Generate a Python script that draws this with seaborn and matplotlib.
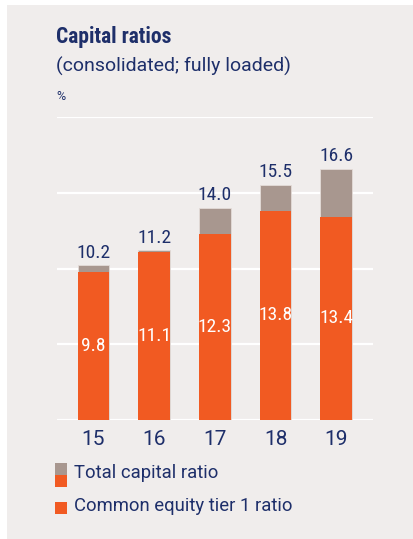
import matplotlib
matplotlib.use("Agg")
import matplotlib.pyplot as plt
import seaborn as sns
import pandas as pd
from matplotlib.patches import Rectangle

# Chart data
years = ["15", "16", "17", "18", "19"]
total_capital = [10.2, 11.2, 14.0, 15.5, 16.6]
cet1 = [9.8, 11.1, 12.3, 13.8, 13.4]

ORANGE = "#F15A22"
GREY = "#A8978F"
NAVY = "#1E2F6A"
PANEL = "#F0EDEC"

sns.set_theme(style="white")
plt.rcParams["font.family"] = ["Roboto", "DejaVu Sans"]
COND = ["Roboto Condensed", "DejaVu Sans"]

df = pd.DataFrame({"year": years, "total": total_capital, "cet1": cet1})

W, H = 414, 539
fig = plt.figure(figsize=(W / 100, H / 100), dpi=100)
fig.patch.set_facecolor("white")
fig.patches.append(Rectangle((7 / W, 0), 406 / W, 534 / H, transform=fig.transFigure,
                             facecolor=PANEL, edgecolor="none", zorder=-5))

ax = fig.add_axes([56.7 / W, (H - 420) / H, 316 / W, 303 / H])
ax.set_facecolor("none")
ax.set_zorder(2)

sns.barplot(data=df, x="year", y="total", color=GREY, width=0.52, saturation=1,
            edgecolor="#E4DCD8", linewidth=0.6, ax=ax, zorder=3)
sns.barplot(data=df, x="year", y="cet1", color=ORANGE, width=0.52, saturation=1,
            edgecolor="none", ax=ax, zorder=4)

ax.set_xlim(-0.606, 4.6)
ax.set_ylim(0, 20)
ax.set_yticks([5, 10, 15, 20])
ax.yaxis.grid(True, color="white", linewidth=1.6, zorder=1)
ax.set_axisbelow(True)
ax.axhline(0, color="white", linewidth=1.6, zorder=1)
ax.tick_params(axis="y", left=False, labelleft=False)
ax.tick_params(axis="x", bottom=False, labelsize=15, labelcolor=NAVY, pad=1)
for s in ax.spines.values():
    s.set_visible(False)
ax.set_xlabel("")
ax.set_ylabel("")

num_font = dict(family=COND, fontsize=14)
for i, (t, c) in enumerate(zip(total_capital, cet1)):
    ax.text(i, t + 0.25, f"{t:.1f}", ha="center", va="bottom", color=NAVY, zorder=5, **num_font)
    ax.text(i, c / 2, f"{c:.1f}", ha="center", va="center", color="white", zorder=5, **num_font)

# Titles
fig.text(56 / W, 1 - 37 / H, "Capital ratios", fontsize=15.5, fontweight="bold", color=NAVY,
         va="center", ha="left", family=COND)
fig.text(56 / W, 1 - 66 / H, "(consolidated; fully loaded)", fontsize=14, color=NAVY,
         va="center", ha="left")
fig.text(56 / W, 1 - 97 / H, "%", fontsize=9, color=NAVY, va="center", ha="left")

# Legend
fig.patches.append(Rectangle((55 / W, 1 - 475 / H), 12 / W, 12 / H, transform=fig.transFigure,
                             facecolor=GREY, edgecolor="none"))
fig.patches.append(Rectangle((55 / W, 1 - 487 / H), 12 / W, 12 / H, transform=fig.transFigure,
                             facecolor=ORANGE, edgecolor="none"))
fig.patches.append(Rectangle((55 / W, 1 - 514 / H), 12 / W, 12 / H, transform=fig.transFigure,
                             facecolor=ORANGE, edgecolor="none"))
fig.text(74 / W, 1 - 473 / H, "Total capital ratio", fontsize=13.3, color=NAVY, va="center", ha="left")
fig.text(74 / W, 1 - 506 / H, "Common equity tier 1 ratio", fontsize=13.3, color=NAVY, va="center", ha="left")

fig.savefig("out.png", dpi=100, facecolor=fig.get_facecolor())
